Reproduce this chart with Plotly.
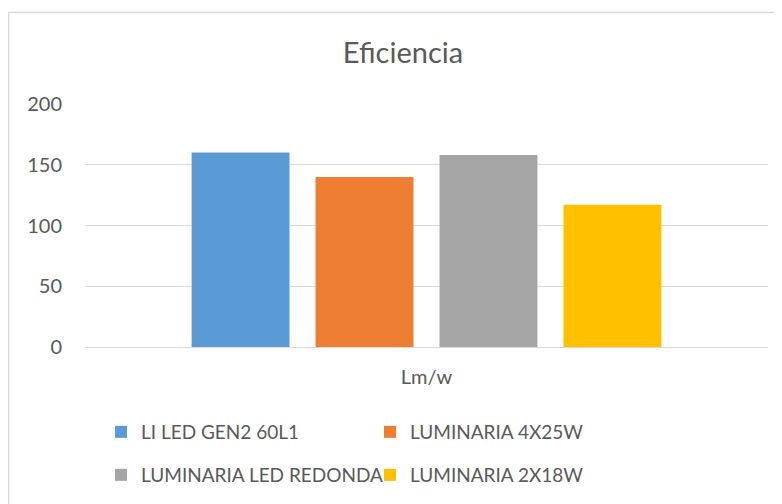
import plotly.graph_objects as go

categories = ["Lm/w"]
series_names = ["LI LED GEN2 60L1", "LUMINARIA 4X25W", "LUMINARIA LED REDONDA", "LUMINARIA 2X18W"]
series_values = [[160], [140], [158], [117]]
colors = ["#5B9BD5", "#ED7D31", "#A5A5A5", "#FFC000"]
legend_ids = ["legend", "legend", "legend2", "legend2"]
tick_vals = [0, 50, 100, 150, 200]

FONT = "Lato"
TXT = "#595959"
OFF = 8  # page body margin

fig = go.Figure()
for name, vals, col, lg in zip(series_names, series_values, colors, legend_ids):
    fig.add_trace(go.Bar(x=categories, y=vals, name=name, marker=dict(color=col, line=dict(width=0)),
                         legend=lg))

W, H = 782, 504
# targets in screen pixels
PL, PR, PT, PB = 85, 768, 104, 347
L = PL - OFF
T = PT - OFF
R = W - (PR - OFF)
B = H - (PB - OFF)
pw = W - L - R
ph = H - T - B

def px_x(p):
    return (p - OFF - L) / pw

def px_y(p):
    return (PB - p) / ph

fig.update_layout(
    width=W, height=H,
    margin=dict(l=L, r=R, t=T, b=B),
    paper_bgcolor="white", plot_bgcolor="white",
    font=dict(family=FONT, color=TXT, size=20),
    title=dict(text="Eficiencia", x=(403 - OFF) / W, xanchor="center", y=1 - (53 - OFF) / H, yanchor="middle",
               font=dict(size=29, color=TXT, family=FONT)),
    barmode="group", bargap=0.274, bargroupgap=0.21,
    xaxis=dict(showgrid=False, showline=False, ticks="", ticklabelstandoff=16,
               tickfont=dict(size=20, color=TXT)),
    yaxis=dict(range=[0, 200], tickvals=tick_vals, showgrid=True, gridcolor="#D9D9D9", gridwidth=1,
               zeroline=True, zerolinecolor="#D9D9D9", zerolinewidth=1, showline=False,
               ticks="", ticklabelstandoff=22, tickfont=dict(size=20, color=TXT)),
    legend=dict(orientation="h", x=px_x(101), xanchor="left", y=px_y(432), yanchor="middle",
                entrywidth=224, entrywidthmode="pixels", font=dict(size=19, color=TXT),
                bgcolor="rgba(0,0,0,0)", itemclick=False),
    legend2=dict(orientation="h", x=px_x(101), xanchor="left", y=px_y(475), yanchor="middle",
                 entrywidth=224, entrywidthmode="pixels", font=dict(size=19, color=TXT),
                 bgcolor="rgba(0,0,0,0)", itemclick=False),
    shapes=[dict(type="rect", xref="paper", yref="paper",
                 x0=px_x(8.5), x1=px_x(781.5), y0=px_y(530), y1=px_y(12.5),
                 line=dict(color="#D9D9D9", width=1.5), fillcolor="rgba(0,0,0,0)", layer="below")],
)

fig.write_html("out.html")
